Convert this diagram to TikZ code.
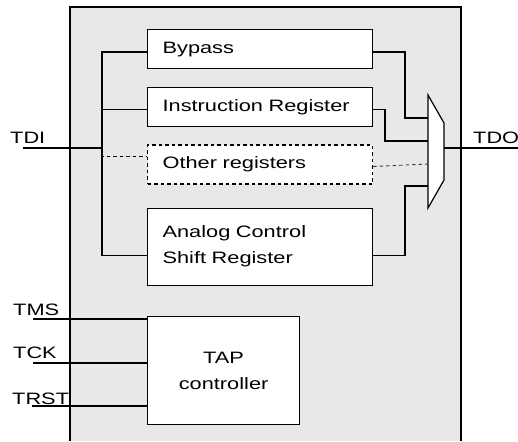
\documentclass[tikz,border=0pt]{standalone}
\usepackage{fontspec}
\setmainfont[FakeStretch=1.32]{Liberation Sans}
\usetikzlibrary{positioning}
\tikzset{
  reg/.style={
    rectangle,
    draw=black,
    fill=white,
    line width=1.2pt,
    text width=195pt,
    align=left,
    inner xsep=15pt,
    minimum height=39pt
  },
  wire/.style={
    line width=1.2pt
  },
  dashwire/.style={
    line width=1.2pt,
    dash pattern=on 3.5pt off 3pt
  }
}

\begin{document}
\begin{tikzpicture}[x=1pt, y=-1pt,
  font=\fontsize{16.5}{26}\selectfont,
  pin/.style={anchor=base west, inner sep=0pt},
  node distance=18pt
]
  \useasboundingbox (0,0) rectangle (518,441);

  % Chip body (open at the bottom)
  \fill[black!9] (70,7) rectangle (461,441);
  \draw[wire] (70,441) -- (70,7) -- (461,7) -- (461,441);

  % Registers
  \node[reg, anchor=north west] (bypass) at (147,29) {Bypass};
  \node[reg, below=of bypass] (instr) {Instruction Register};
  \node[reg, dashwire, below=17pt of instr] (other) {Other registers};
  \node[reg, below=23pt of other, minimum height=77pt] (analog) {Analog Control\\Shift Register};
  \node[reg, below right=30pt and 0pt of analog.south west, text width=122pt, align=center, minimum height=108pt] (tap) {TAP\\controller};

  % Multiplexer
  \draw[wire, fill=white] (428,95) -- (444,123) -- (444,180) -- (428,208) -- cycle;
  \coordinate (in1) at (428,118);
  \coordinate (in2) at (428,141);
  \coordinate (in3) at (428,164);
  \coordinate (in4) at (428,186);
  \coordinate (mux) at (444,148);

  % Pins
  \coordinate (tdi) at (23,148);
  \coordinate (bus) at (102,148);
  \coordinate (tdo) at (518,148);
  \coordinate (tms) at (33,319);
  \coordinate (tck) at (33,363);
  \coordinate (trst) at (32,406);
  \node[pin] (lbltdi) at (10,143) {TDI};
  \node[pin] (lbltdo) at (473,143) {TDO};
  \node[pin] (lbltms) at (13,315) {TMS};
  \node[pin] (lbltck) at (13,358) {TCK};
  \node[pin] (lbltrst) at (12,404) {TRST};

  % TDI fan-out
  \draw[wire] (tdi) -- (bus);
  \draw[wire] ([yshift=-3pt]bypass.west) -| (bus) |- ([yshift=-8.5pt]analog.west);
  \draw[wire] (bus) |- ([yshift=-2pt]instr.west);
  \draw[dashwire] (bus) |- ([yshift=8pt]other.west);

  % Into the multiplexer
  \draw[wire] ([yshift=-3pt]bypass.east) -| ([xshift=-23pt]in1) -- (in1);
  \draw[wire] ([yshift=-2pt]instr.east) -| ([xshift=-43pt]in2) -- (in2);
  \draw[dashwire, line width=0.9pt, black!75] ([yshift=-2pt]other.east) -- (in3);
  \draw[wire] ([yshift=-8.5pt]analog.east) -| ([xshift=-23pt]in4) -- (in4);
  \draw[wire] (mux) -- (tdo);

  % TAP inputs
  \draw[wire] (tms) -- (tms -| tap.west);
  \draw[wire] (tck) -- (tck -| tap.west);
  \draw[wire] (trst) -- (trst -| tap.west);
\end{tikzpicture}
\end{document}
